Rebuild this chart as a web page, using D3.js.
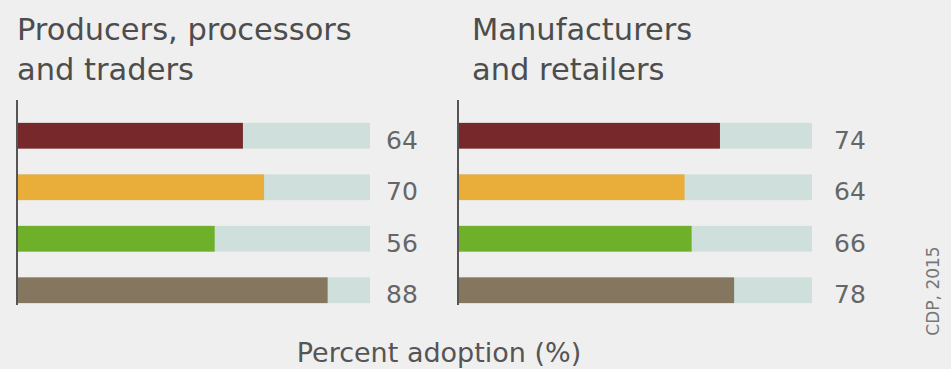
<!DOCTYPE html>
<html>
<head>
<meta charset="utf-8">
<script src="https://cdn.jsdelivr.net/npm/d3@7"></script>
<style>
  html, body { margin: 0; padding: 0; background: #efefef; }
  svg { display: block; }
  text { font-family: "DejaVu Sans", sans-serif; }
</style>
</head>
<body>
<svg id="chart" width="951" height="369"></svg>
<script>
// Share of companies adopting the practice, by segment
const rows = ["r1", "r2", "r3", "r4"];
const rowColors = ["#76282a", "#e9ad3a", "#6fb02a", "#85765f"];
const producersValues = [64, 70, 56, 88];
const manufacturersValues = [74, 64, 66, 78];
const panelTitles = [["Producers, processors", "and traders"], ["Manufacturers", "and retailers"]];
const axisTitle = "Percent adoption (%)";
const sourceNote = "CDP, 2015";

const svg = d3.select("#chart");
const W = 951, H = 369;

svg.append("rect").attr("width", W).attr("height", H).attr("fill", "#efefef");

const y = d3.scaleBand().domain(rows).range([110, 316]).paddingInner(0.5).paddingOuter(0.25);

const panels = [
  { values: producersValues, title: panelTitles[0], x0: 17, x1: 370, titleX: 17, labelX: 386 },
  { values: manufacturersValues, title: panelTitles[1], x0: 458, x1: 812, titleX: 472, labelX: 834 }
];

panels.forEach(p => {
  const x = d3.scaleLinear().domain([0, 100]).range([p.x0, p.x1]);
  const g = svg.append("g");

  // two-line panel heading
  const t = g.append("text")
    .attr("x", p.titleX).attr("y", 40)
    .attr("fill", "#4d4d4d").attr("font-size", 30.5);
  p.title.forEach((line, i) => {
    t.append("tspan").attr("x", p.titleX).attr("dy", i === 0 ? 0 : 40).text(line);
  });

  // full-scale track behind each bar
  g.selectAll("rect.track").data(rows).join("rect")
    .attr("class", "track")
    .attr("x", x(0)).attr("y", d => y(d))
    .attr("width", x(100) - x(0)).attr("height", y.bandwidth())
    .attr("fill", "#cfe0dc");

  // value bars
  g.selectAll("rect.bar").data(p.values).join("rect")
    .attr("class", "bar")
    .attr("x", x(0)).attr("y", (d, i) => y(rows[i]))
    .attr("width", d => x(d) - x(0)).attr("height", y.bandwidth())
    .attr("fill", (d, i) => rowColors[i]);

  // value labels
  g.selectAll("text.val").data(p.values).join("text")
    .attr("class", "val")
    .attr("x", p.labelX).attr("y", (d, i) => y(rows[i]) + y.bandwidth())
    .attr("fill", "#666").attr("font-size", 25)
    .text(d => d);

  // baseline axis
  g.append("line")
    .attr("x1", x(0)).attr("x2", x(0)).attr("y1", 100).attr("y2", 305)
    .attr("stroke", "#555").attr("stroke-width", 2);
});

svg.append("text")
  .attr("x", 439).attr("y", 362)
  .attr("text-anchor", "middle").attr("fill", "#555").attr("font-size", 27)
  .text(axisTitle);

svg.append("text")
  .attr("transform", "translate(939,291) rotate(-90)")
  .attr("text-anchor", "middle").attr("fill", "#777").attr("font-size", 17)
  .text(sourceNote);
</script>
</body>
</html>
